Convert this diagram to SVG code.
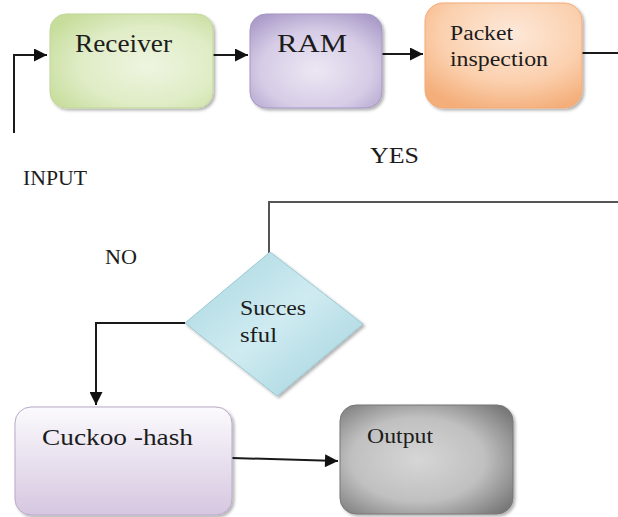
<svg xmlns="http://www.w3.org/2000/svg" width="618" height="517" viewBox="0 0 618 517">
<style>
text{font-family:"Liberation Serif","DejaVu Serif",serif;fill:#1c1c1c}
.ln{fill:none;stroke:#1a1a1a;stroke-width:2}
.ln2{fill:none;stroke:#555;stroke-width:2}
.box{stroke-width:1}
</style>
<defs>
<marker id="ah" viewBox="0 0 10 10" refX="10" refY="5" markerWidth="7.5" markerHeight="6.5" markerUnits="strokeWidth" orient="auto">
<path d="M0,0 L10,5 L0,10 z" fill="#111"/>
</marker>
<filter id="sh" x="-10%" y="-10%" width="125%" height="125%">
<feDropShadow dx="2" dy="2" stdDeviation="1.5" flood-color="#000" flood-opacity="0.3"/>
</filter>
<radialGradient id="gGreen" cx="0.6" cy="0.55" r="0.7">
<stop offset="0" stop-color="#eef5e0"/>
<stop offset="0.6" stop-color="#dfecc5"/>
<stop offset="1" stop-color="#c7dd9c"/>
</radialGradient>
<radialGradient id="gPurple" cx="0.5" cy="0.6" r="0.7">
<stop offset="0" stop-color="#ece7f3"/>
<stop offset="0.6" stop-color="#d6cce6"/>
<stop offset="1" stop-color="#ab9cc9"/>
</radialGradient>
<radialGradient id="gOrange" cx="0.55" cy="0.3" r="0.75">
<stop offset="0" stop-color="#fde9da"/>
<stop offset="0.6" stop-color="#fbd0ae"/>
<stop offset="1" stop-color="#f4ae7a"/>
</radialGradient>
<linearGradient id="gBlue" x1="0" y1="0" x2="1" y2="1">
<stop offset="0" stop-color="#a6d5df"/>
<stop offset="0.5" stop-color="#cfebf1"/>
<stop offset="1" stop-color="#9fd0db"/>
</linearGradient>
<linearGradient id="gLav" x1="0" y1="0" x2="0" y2="1">
<stop offset="0" stop-color="#fbfafd"/>
<stop offset="0.35" stop-color="#eee8f3"/>
<stop offset="1" stop-color="#d6c7e0"/>
</linearGradient>
<radialGradient id="gGray" cx="0.45" cy="0.5" r="0.7">
<stop offset="0" stop-color="#d6d6d6"/>
<stop offset="0.55" stop-color="#c0c0c0"/>
<stop offset="1" stop-color="#737373"/>
</radialGradient>
</defs>
<rect width="618" height="517" fill="#fff"/>

<g id="connectors">
<polyline class="ln" points="14,133 14,55 47,55" marker-end="url(#ah)"/>
<line class="ln" x1="213" y1="55" x2="248" y2="55" marker-end="url(#ah)"/>
<line class="ln" x1="382" y1="54" x2="423" y2="54" marker-end="url(#ah)"/>
<line class="ln" x1="582" y1="53" x2="618" y2="53"/>
<polyline class="ln2" points="269,253 269,202 618,202"/>
<polyline class="ln" points="185,323 96,323 96,405" marker-end="url(#ah)"/>
<line class="ln" x1="232" y1="458" x2="338" y2="461" marker-end="url(#ah)"/>
</g>

<g id="receiver">
<rect class="box" x="50" y="14" width="163" height="94" rx="16" fill="url(#gGreen)" stroke="#c2d79a" filter="url(#sh)"/>
<text x="75" y="52" font-size="25" textLength="97" lengthAdjust="spacingAndGlyphs">Receiver</text>
</g>

<g id="ram">
<rect class="box" x="250" y="14" width="132" height="94" rx="16" fill="url(#gPurple)" stroke="#a596c4" filter="url(#sh)"/>
<text x="277" y="52" font-size="26" textLength="70" lengthAdjust="spacingAndGlyphs">RAM</text>
</g>

<g id="packet">
<rect class="box" x="425" y="3" width="157" height="105" rx="18" fill="url(#gOrange)" stroke="#f2ab77" filter="url(#sh)"/>
<text x="450" y="40" font-size="20" textLength="63" lengthAdjust="spacingAndGlyphs">Packet</text>
<text x="450" y="66" font-size="20" textLength="98" lengthAdjust="spacingAndGlyphs">inspection</text>
</g>

<g id="labels">
<text x="23" y="185" font-size="20" textLength="64" lengthAdjust="spacingAndGlyphs">INPUT</text>
<text x="370" y="163" font-size="23" textLength="49" lengthAdjust="spacingAndGlyphs">YES</text>
<text x="105" y="264" font-size="20" textLength="32" lengthAdjust="spacingAndGlyphs">NO</text>
</g>

<g id="successful">
<polygon points="270,252 363,324 277,396 185,323" fill="url(#gBlue)" stroke="#9cc9d3" stroke-width="1" filter="url(#sh)"/>
<text x="240" y="315" font-size="21" textLength="66" lengthAdjust="spacingAndGlyphs">Succes</text>
<text x="240" y="342" font-size="21" textLength="37" lengthAdjust="spacingAndGlyphs">sful</text>
</g>

<g id="cuckoo">
<rect class="box" x="15" y="407" width="217" height="108" rx="16" fill="url(#gLav)" stroke="#b9a9c9" filter="url(#sh)"/>
<text x="42" y="445" font-size="24" textLength="151" lengthAdjust="spacingAndGlyphs">Cuckoo -hash</text>
</g>

<g id="output">
<rect class="box" x="340" y="405" width="173" height="109" rx="16" fill="url(#gGray)" stroke="#777" filter="url(#sh)"/>
<text x="367" y="443" font-size="20" textLength="66" lengthAdjust="spacingAndGlyphs">Output</text>
</g>
</svg>
